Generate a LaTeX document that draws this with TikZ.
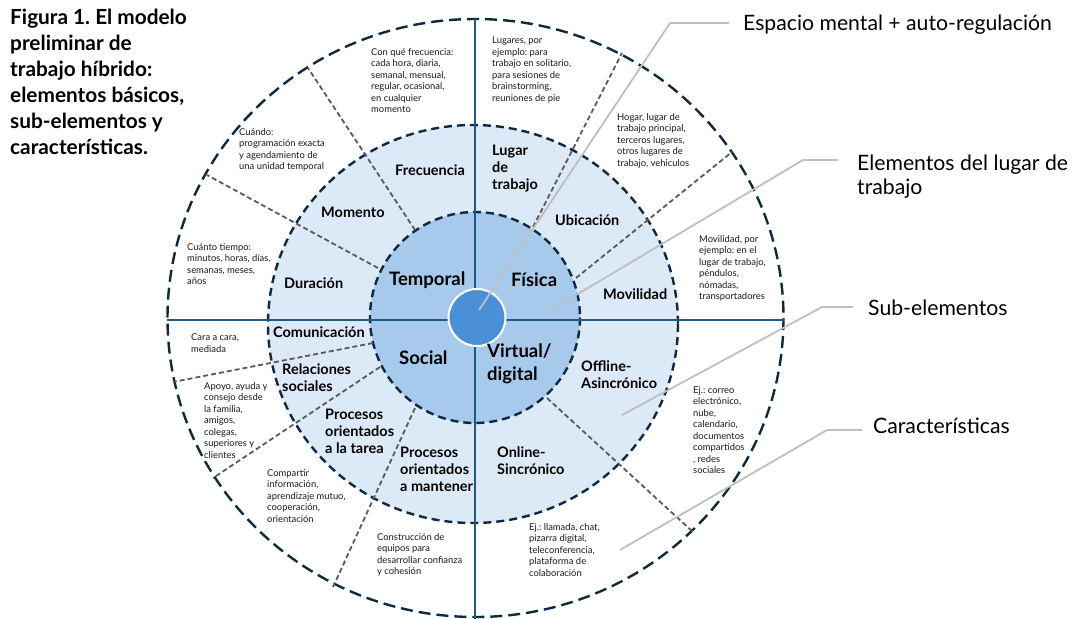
\documentclass[tikz,border=0pt]{standalone}
\usepackage{fontspec}
\setmainfont{Lato}
\frenchspacing
\definecolor{ringc}{HTML}{DCE9F6}
\definecolor{innerc}{HTML}{A7CAEC}
\definecolor{centerc}{HTML}{4A90D9}
\definecolor{outlc}{HTML}{0E2A40}
\definecolor{axisc}{HTML}{1F5A82}
\definecolor{divc}{HTML}{5A5A5A}
\definecolor{leadc}{HTML}{BFBFBF}
\definecolor{txt}{HTML}{1A1A1A}
\begin{document}
\begin{tikzpicture}[x=1pt,y=-1pt,
  txtbase/.style={anchor=north west, align=left, inner sep=0pt, execute at begin node=\strut},
  chartext/.style={txtbase, text=txt, font=\fontsize{9.4}{11.5}\selectfont, yshift=8.05pt},
  subtext/.style={txtbase, text=black, font=\fontsize{14.5}{17.3}\selectfont\bfseries, yshift=12.1pt},
  coretext/.style={txtbase, text=black, font=\fontsize{18.5}{23}\selectfont\bfseries, yshift=16.1pt},
  sidelabel/.style={txtbase, text=black, font=\fontsize{21.2}{23.5}\selectfont, yshift=16.45pt},
  titletext/.style={txtbase, text=black, font=\fontsize{20.8}{26}\selectfont\bfseries, yshift=18.2pt},
  divider/.style={draw=divc, line width=1.8pt, dash pattern=on 5pt off 3pt},
  leader/.style={draw=leadc, line width=1.8pt},
  ringline/.style={draw=outlc, line width=2.4pt},
  axis/.style={draw=axisc, line width=1.8pt}]
\useasboundingbox (0,0) rectangle (1072,619);
\fill[white] (0,0) rectangle (1072,619);

% circles
\draw[ringline, dash pattern=on 12pt off 6pt, fill=white] (475.5,318) ellipse [x radius=308, y radius=299];
\fill[ringc] (473,324) ellipse [x radius=205, y radius=199];
\draw[ringline, dash pattern=on 8pt off 5pt] (473,324) ellipse [x radius=205, y radius=199];
\fill[innerc] (475,317.5) ellipse [x radius=105, y radius=105.5];
\draw[ringline, dash pattern=on 8pt off 5pt] (475,317.5) ellipse [x radius=105, y radius=105.5];

% axes
\coordinate (axL) at (167,320);
\coordinate (axR) at (784,320);
\coordinate (axT) at (475,19);
\coordinate (axB) at (475,619);
\draw[axis] (axL) -- (axR);
\draw[axis] (axT) -- (axB);

% dividers
\draw[divider] (415,230) -- (308,68);
\draw[divider] (378,268) -- (207,175);
\draw[divider] (533,227) -- (622,53);
\draw[divider] (576,278) -- (732,152);
\draw[divider] (373,343) -- (173,382);
\draw[divider] (380,367) -- (213,478);
\draw[divider] (415,408) -- (333,587);
\draw[divider] (547,398) -- (693,532);

% centre
\node[circle, fill=centerc, draw=white, line width=2pt, minimum size=57pt, inner sep=0pt] (core) at (477,317.5) {};

% leader coordinates
\coordinate (l1s) at (479,310);
\coordinate (l1b) at (670,23);
\coordinate (l1e) at (729,23);
\coordinate (l2s) at (556,307);
\coordinate (l2b) at (803,160);
\coordinate (l2e) at (838,160);
\coordinate (l3s) at (622,415);
\coordinate (l3b) at (822,307);
\coordinate (l3e) at (853,307);
\coordinate (l4s) at (620,550);
\coordinate (l4b) at (827,430);
\coordinate (l4e) at (862,430);
\draw[leader] (l1s) -- (l1b) -- (l1e);
\draw[leader] (l2s) -- (l2b) -- (l2e);
\draw[leader] (l3s) -- (l3b) -- (l3e);
\draw[leader] (l4s) -- (l4b) -- (l4e);

% title and side labels
\node[titletext] (title) at (10,27) {Figura 1. El modelo\\preliminar de\\trabajo híbrido:\\elementos básicos,\\sub-elementos y\\características.};
\node[sidelabel] (espacio) at (743,30) {Espacio mental + auto-regulación};
\node[sidelabel] (elementos) at (857,171.5) {Elementos del lugar de\\trabajo};
\node[sidelabel] (subel) at (868,315.5) {Sub-elementos};
\node[sidelabel] (caract) at (873,433.5) {Características};

% core labels
\node[coretext] (temporal) at (389,285) {Temporal};
\node[coretext] (fisica) at (511,286) {Física};
\node[coretext] (social) at (399,364) {Social};
\node[coretext] (virtual) at (487,360) {Virtual/\\digital};

% sub-elements
\node[subtext] (frec) at (395,175.5) {Frecuencia};
\node[subtext] (mom) at (321,217.5) {Momento};
\node[subtext] (dur) at (284,288.5) {Duración};
\node[subtext] (lugar) at (492,156.5) {Lugar\\de\\trabajo};
\node[subtext] (ubic) at (555,225.5) {Ubicación};
\node[subtext] (movi) at (603,299.5) {Movilidad};
\node[subtext] (comu) at (273,337.5) {Comunicación};
\node[subtext] (rela) at (282,375.5) {Relaciones\\sociales};
\node[subtext] (ptarea) at (325,420.5) {Procesos\\orientados\\a la tarea};
\node[subtext] (pmant) at (400,458.5) {Procesos\\orientados\\a mantener};
\node[subtext] (offl) at (581,372.5) {Offline-\\Asincrónico};
\node[subtext] (onl) at (497,458.5) {Online-\\Sincrónico};

% characteristics
\node[chartext] (cfrec) at (371,56) {Con qué frecuencia:\\cada hora, diaria,\\semanal, mensual,\\regular, ocasional,\\en cualquier\\momento};
\node[chartext] (ccuando) at (239,136) {Cuándo:\\programación exacta\\y agendamiento de\\una unidad temporal};
\node[chartext] (ccuanto) at (187,251) {Cuánto tiempo:\\minutos, horas, días,\\semanas, meses,\\años};
\node[chartext] (clugares) at (492,45) {Lugares, por\\ejemplo: para\\trabajo en solitario,\\para sesiones de\\brainstorming,\\reuniones de pie};
\node[chartext] (chogar) at (617,121) {Hogar, lugar de\\trabajo principal,\\terceros lugares,\\otros lugares de\\trabajo, vehiculos};
\node[chartext] (cmovil) at (699,243) {Movilidad, por\\ejemplo: en el\\lugar de trabajo,\\péndulos,\\nómadas,\\transportadores};
\node[chartext] (ccara) at (191,342) {Cara a cara,\\mediada};
\node[chartext] (capoyo) at (204,390) {Apoyo, ayuda y\\consejo desde\\la familia,\\amigos,\\colegas,\\superiores y\\clientes};
\node[chartext] (ccomp) at (267,477) {Compartir\\información,\\aprendizaje mutuo,\\cooperación,\\orientación};
\node[chartext] (cconst) at (377,541) {Construcción de\\equipos para\\desarrollar confianza\\y cohesión};
\node[chartext] (ccorreo) at (693,394) {Ej.: correo\\electrónico,\\nube,\\calendario,\\documentos\\compartidos\\, redes\\sociales};
\node[chartext] (cllam) at (529,531) {Ej.: llamada, chat,\\pizarra digital,\\teleconferencia,\\plataforma de\\colaboración};
\end{tikzpicture}
\end{document}
